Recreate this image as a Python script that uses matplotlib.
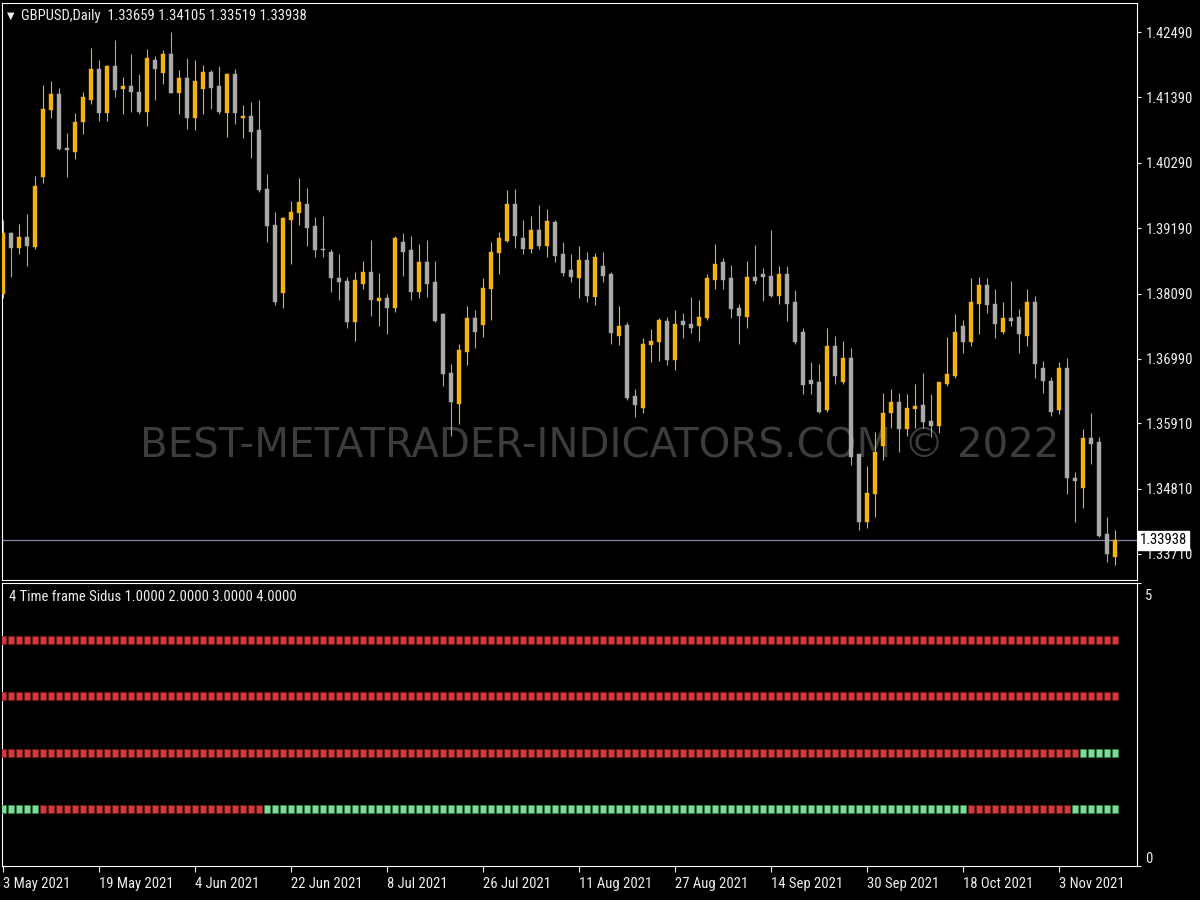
import matplotlib
matplotlib.use("Agg")
import matplotlib.pyplot as plt
from matplotlib.path import Path
from matplotlib.transforms import ScaledTranslation
import numpy as np
import logging
logging.getLogger("matplotlib.font_manager").setLevel(logging.ERROR)

NARROW = ['Roboto Condensed', 'Liberation Sans Narrow', 'DejaVu Sans Condensed', 'Arial Narrow',
          'Roboto', 'DejaVu Sans']
plt.rcParams['font.family'] = NARROW

# ---------------- data ----------------
header_text = "GBPUSD,Daily  1.33659 1.34105 1.33519 1.33938"
indicator_text = "4 Time frame Sidus 1.0000 2.0000 3.0000 4.0000"
watermark = "BEST-METATRADER-INDICATORS.COM \u00a9 2022"
last_price = 1.33938
last_price_label = "1.33938"

opens = [1.38083, 1.39110, 1.38856, 1.39042, 1.38873, 1.40051, 1.41178, 1.41447, 1.40538, 1.40471,
         1.40976, 1.41346, 1.41868, 1.41128, 1.41918, 1.41531, 1.41581, 1.41480, 1.41144, 1.42019,
         1.41801, 1.42120, 1.41464, 1.41716, 1.41043, 1.41531, 1.41817, 1.41581, 1.41128, 1.41784,
         1.41043, 1.41077, 1.40841, 1.39849, 1.39244, 1.38100, 1.39328, 1.39446, 1.39597, 1.39227,
         1.38840, 1.38789, 1.38352, 1.38301, 1.37612, 1.38251, 1.38453, 1.37965, 1.38015, 1.37847,
         1.38957, 1.38823, 1.38116, 1.38621, 1.38284, 1.37747, 1.36755, 1.36233, 1.37107, 1.37679,
         1.37562, 1.38167, 1.38773, 1.38974, 1.39597, 1.39025, 1.38840, 1.39160, 1.38890, 1.39294,
         1.38756, 1.38487, 1.38352, 1.38655, 1.38032, 1.38554, 1.38420, 1.37376, 1.37562, 1.36367,
         1.36165, 1.37225, 1.37275, 1.37629, 1.36973, 1.37629, 1.37579, 1.37545, 1.37679, 1.38318,
         1.38621, 1.38352, 1.37847, 1.37696, 1.38369, 1.38420, 1.38386, 1.38049, 1.38420, 1.37948,
         1.37443, 1.36636, 1.36602, 1.36132, 1.37208, 1.36602, 1.37006, 1.35392, 1.34248, 1.34719,
         1.35526, 1.36082, 1.36266, 1.35813, 1.36149, 1.36216, 1.35947, 1.35863, 1.36569, 1.36704,
         1.37545, 1.37275, 1.37915, 1.38234, 1.37915, 1.37443, 1.37679, 1.37696, 1.37376, 1.37948,
         1.36838, 1.36619, 1.36132, 1.36838, 1.34988, 1.34819, 1.35660, 1.35593, 1.34046, 1.33659]

highs = [1.39328, 1.39126, 1.39261, 1.39429, 1.40068, 1.41598, 1.41665, 1.41547, 1.40791, 1.41128,
         1.41480, 1.42220, 1.42019, 1.41935, 1.42355, 1.41733, 1.42120, 1.41784, 1.42204, 1.42086,
         1.42187, 1.42489, 1.41851, 1.42052, 1.42019, 1.41935, 1.41851, 1.41918, 1.41801, 1.41868,
         1.41262, 1.41312, 1.41346, 1.40102, 1.39462, 1.39378, 1.39647, 1.40034, 1.39865, 1.39378,
         1.39395, 1.38840, 1.38756, 1.38369, 1.38453, 1.38638, 1.38991, 1.38437, 1.38083, 1.39059,
         1.39110, 1.39059, 1.38924, 1.38991, 1.38638, 1.37764, 1.36906, 1.37242, 1.37881, 1.37814,
         1.38352, 1.38957, 1.39126, 1.39832, 1.39849, 1.39328, 1.39395, 1.39580, 1.39513, 1.39328,
         1.38957, 1.38756, 1.38890, 1.38789, 1.38773, 1.38789, 1.38453, 1.37881, 1.37612, 1.36485,
         1.37342, 1.37495, 1.37679, 1.37696, 1.37814, 1.37764, 1.38032, 1.37982, 1.38420, 1.38924,
         1.38688, 1.38571, 1.37915, 1.38638, 1.38907, 1.38520, 1.39160, 1.38554, 1.38554, 1.38150,
         1.37511, 1.36939, 1.36906, 1.37511, 1.37376, 1.37292, 1.37174, 1.35392, 1.35190, 1.35761,
         1.36418, 1.36485, 1.36418, 1.36401, 1.36569, 1.36755, 1.36401, 1.36501, 1.37359, 1.37747,
         1.37646, 1.38352, 1.38369, 1.38352, 1.38167, 1.37948, 1.38301, 1.37831, 1.38167, 1.38049,
         1.36956, 1.36687, 1.36939, 1.37006, 1.35089, 1.35813, 1.36082, 1.35677, 1.34332, 1.34105]

lows = [1.38015, 1.38369, 1.38756, 1.38554, 1.38840, 1.39950, 1.41043, 1.40505, 1.40051, 1.40354,
        1.40774, 1.41279, 1.40993, 1.40993, 1.41396, 1.41111, 1.41144, 1.41111, 1.40909, 1.41346,
        1.41615, 1.41464, 1.41111, 1.40859, 1.40841, 1.41111, 1.41195, 1.41111, 1.40723, 1.40943,
        1.40706, 1.40370, 1.39798, 1.38957, 1.37898, 1.37847, 1.38588, 1.39244, 1.38890, 1.38705,
        1.38705, 1.38116, 1.37982, 1.37511, 1.37292, 1.38167, 1.37713, 1.37545, 1.37410, 1.37780,
        1.38386, 1.37982, 1.38015, 1.38032, 1.37612, 1.36535, 1.35694, 1.35897, 1.36889, 1.37174,
        1.37359, 1.37646, 1.38420, 1.38957, 1.38856, 1.38756, 1.38773, 1.38840, 1.38705, 1.38621,
        1.38386, 1.38284, 1.38015, 1.37948, 1.37898, 1.38284, 1.37242, 1.37225, 1.36300, 1.36014,
        1.36082, 1.36939, 1.36956, 1.36889, 1.36805, 1.37342, 1.37427, 1.37292, 1.37646, 1.38167,
        1.38167, 1.37679, 1.37242, 1.37511, 1.38251, 1.37965, 1.38032, 1.37915, 1.37629, 1.37242,
        1.36401, 1.36401, 1.36082, 1.36098, 1.36569, 1.36569, 1.35207, 1.34113, 1.34147, 1.34332,
        1.35291, 1.35829, 1.35425, 1.35694, 1.35829, 1.35829, 1.35677, 1.35745, 1.36535, 1.36670,
        1.37091, 1.37208, 1.37410, 1.37764, 1.37342, 1.37410, 1.37545, 1.37091, 1.37208, 1.36670,
        1.36418, 1.36031, 1.36065, 1.34719, 1.34248, 1.34483, 1.35224, 1.33995, 1.33575, 1.33519]

closes = [1.39110, 1.38856, 1.39042, 1.38890, 1.39899, 1.41195, 1.41447, 1.40522, 1.40505, 1.40976,
          1.41396, 1.41868, 1.41128, 1.41918, 1.41514, 1.41581, 1.41480, 1.41144, 1.42052, 1.41868,
          1.42120, 1.41464, 1.41716, 1.41043, 1.41665, 1.41817, 1.41547, 1.41144, 1.41784, 1.41128,
          1.41077, 1.40807, 1.39832, 1.39227, 1.37948, 1.39361, 1.39462, 1.39630, 1.39193, 1.38823,
          1.38823, 1.38352, 1.38284, 1.37612, 1.38318, 1.38453, 1.37982, 1.38015, 1.37847, 1.39025,
          1.38789, 1.38116, 1.38621, 1.38251, 1.37629, 1.36738, 1.36266, 1.37141, 1.37679, 1.37443,
          1.38183, 1.38789, 1.39025, 1.39597, 1.39059, 1.38840, 1.39160, 1.38890, 1.39311, 1.38722,
          1.38437, 1.38369, 1.38655, 1.38049, 1.38705, 1.38386, 1.37427, 1.37545, 1.36333, 1.36216,
          1.37242, 1.37292, 1.37646, 1.36973, 1.37579, 1.37562, 1.37511, 1.37696, 1.38352, 1.38588,
          1.38318, 1.37831, 1.37713, 1.38369, 1.38301, 1.38369, 1.38049, 1.38420, 1.37915, 1.37275,
          1.36552, 1.36569, 1.36098, 1.37208, 1.36704, 1.37006, 1.35341, 1.34248, 1.34736, 1.35425,
          1.36082, 1.36266, 1.35813, 1.36165, 1.36199, 1.35930, 1.35863, 1.36602, 1.36738, 1.37443,
          1.37275, 1.37948, 1.38234, 1.37898, 1.37579, 1.37679, 1.37629, 1.37410, 1.37948, 1.36906,
          1.36619, 1.36098, 1.36838, 1.34988, 1.34937, 1.35660, 1.35560, 1.34012, 1.33710, 1.33938]

price_ticks = [1.42490, 1.41390, 1.40290, 1.39190, 1.38090, 1.36990, 1.35910, 1.34810, 1.33710]
price_tick_labels = ["1.42490", "1.41390", "1.40290", "1.39190", "1.38090",
                     "1.36990", "1.35910", "1.34810", "1.33710"]

date_tick_bars = [0, 12, 24, 36, 48, 60, 72, 84, 96, 108, 120, 132]
date_tick_labels = ["3 May 2021", "19 May 2021", "4 Jun 2021", "22 Jun 2021", "8 Jul 2021",
                    "26 Jul 2021", "11 Aug 2021", "27 Aug 2021", "14 Sep 2021", "30 Sep 2021",
                    "18 Oct 2021", "3 Nov 2021"]

indicator_ticks = [0, 5]
indicator_tick_labels = ["0", "5"]

# indicator rows: level -> run-length list of (count, state)
row_levels = [1, 2, 3, 4]
row1_runs = [(5, "up"), (28, "down"), (88, "up"), (13, "down"), (6, "up")]
row2_runs = [(135, "down"), (5, "up")]
row3_runs = [(140, "down")]
row4_runs = [(140, "down")]

# ---------------- styling ----------------
BG = "black"
BULL = "#f2b30f"
BEAR = "#a9a9a9"
FG = "#eeeeee"
UP_C = "#7ddc98"
UP_E = "#2f7f48"
DN_C = "#d83838"
DN_E = "#6e1a1a"
FS = 10.5

W, H = 1200, 900
fig = plt.figure(figsize=(12, 9), dpi=100, facecolor=BG)

def rect(x0, y0, x1, y1):
    return [x0 / W, 1 - y1 / H, (x1 - x0) / W, (y1 - y0) / H]

ax = fig.add_axes(rect(2, 3, 1137, 580), facecolor=BG)
ax2 = fig.add_axes(rect(2, 583, 1137, 866), facecolor=BG)

n = len(opens)
x = np.arange(n)
o = np.array(opens); h = np.array(highs); l = np.array(lows); c = np.array(closes)
bull = c >= o
colors = np.where(bull, BULL, BEAR)

xlim = (-0.125, 141.75)
ylim = (1.33272, 1.42978)
ax.set_xlim(*xlim)
ax.set_ylim(*ylim)

# watermark behind candles
fig.text(600 / W, 1 - 447 / H, watermark, ha="center", va="center", color="#3c3c3c",
         fontsize=29, family=["DejaVu Sans"], zorder=0.5)
ax.set_zorder(1)
ax.patch.set_alpha(0.0)

ax.vlines(x, l, h, colors=colors, linewidth=0.8, zorder=2)
body_h = np.maximum(np.abs(c - o), 0.00012)
ax.bar(x, body_h, bottom=np.minimum(o, c), width=0.62, color=colors,
       edgecolor=colors, linewidth=0.3, zorder=3)

ax.axhline(last_price, color="#8e84a8", linewidth=0.9, zorder=1)

ax.yaxis.tick_right()
ax.set_yticks(price_ticks)
ax.set_yticklabels(price_tick_labels)
ax.tick_params(axis="y", colors=FG, labelcolor=FG, length=3, width=0.8,
               direction="out", pad=3, labelsize=FS)
ax.set_xticks([])
for s in ax.spines.values():
    s.set_color("white")
    s.set_linewidth(0.8)

ax.annotate(last_price_label, xy=(1.0, last_price), xycoords=("axes fraction", "data"),
            xytext=(2, 0), textcoords="offset points", ha="left", va="center",
            color="black", fontsize=FS,
            bbox=dict(boxstyle="square,pad=0.15", fc="white", ec="white"), zorder=10,
            annotation_clip=False)

fig.text(7 / W, 1 - 16 / H, "\u25bc", color=FG, fontsize=7, ha="left", va="center",
         family=["DejaVu Sans"])
fig.text(21 / W, 1 - 16 / H, header_text, color=FG, fontsize=FS, ha="left", va="center")

# ---------------- indicator panel ----------------
rect_marker = Path([(-0.75, -1), (0.75, -1), (0.75, 1), (-0.75, 1), (-0.75, -1)],
                   [Path.MOVETO, Path.LINETO, Path.LINETO, Path.LINETO, Path.CLOSEPOLY])
ax2.set_xlim(*xlim)
ax2.set_ylim(0, 5)
for level, runs in zip(row_levels, [row1_runs, row2_runs, row3_runs, row4_runs]):
    states = []
    for cnt, st in runs:
        states += [st] * cnt
    states = np.array(states)
    up = states == "up"
    ax2.scatter(x[up], np.full(up.sum(), level), marker=rect_marker, s=30, c=UP_C,
                edgecolors=UP_E, linewidths=0.5, zorder=3)
    ax2.scatter(x[~up], np.full((~up).sum(), level), marker=rect_marker, s=30, c=DN_C,
                edgecolors=DN_E, linewidths=0.5, zorder=3)

ax2.yaxis.tick_right()
ax2.set_yticks(indicator_ticks)
ax2.set_yticklabels(indicator_tick_labels)
ax2.tick_params(axis="y", colors=FG, labelcolor=FG, length=3, width=0.8, pad=3, labelsize=FS)
labs = ax2.get_yticklabels()
labs[0].set_va("bottom")
labs[1].set_va("top")
labs[1].set_transform(labs[1].get_transform() +
                      ScaledTranslation(0, -4 / 72, fig.dpi_scale_trans))

ax2.set_xticks(date_tick_bars)
ax2.set_xticklabels(date_tick_labels, ha="left")
ax2.tick_params(axis="x", colors=FG, labelcolor=FG, length=4, width=0.8,
                direction="out", pad=4, labelsize=FS)
for s in ax2.spines.values():
    s.set_color("white")
    s.set_linewidth(0.8)

ax2.text(7 / 1135, 1 - (597 - 583) / (866 - 583), indicator_text, transform=ax2.transAxes,
         color=FG, fontsize=FS, ha="left", va="center")

fig.savefig("out.png", dpi=100, facecolor=BG)
